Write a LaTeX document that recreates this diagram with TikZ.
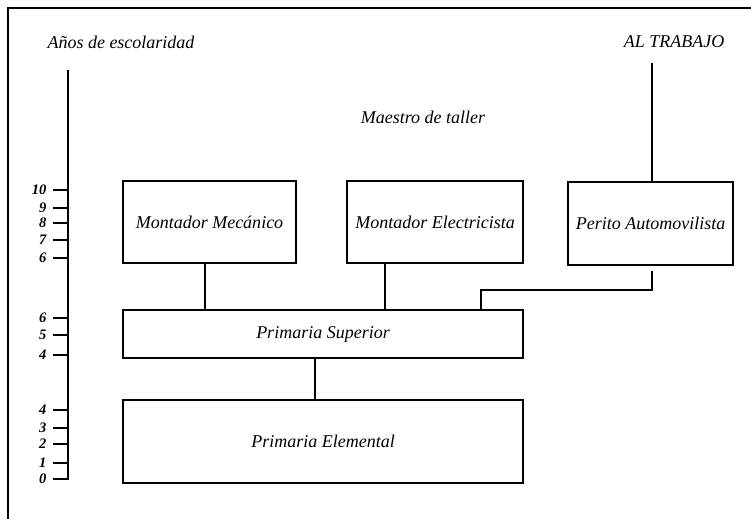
\documentclass[tikz,border=0pt]{standalone}
\usepackage{fontspec}
\setmainfont{Liberation Serif}
\usepackage{tikz}

\tikzset{
  oficio/.style={draw, line width=1.3pt, inner sep=0pt, font=\fontsize{18}{21}\selectfont\itshape},
  rotulo/.style={font=\fontsize{18}{21}\selectfont\itshape},
  anio/.style={anchor=east, inner sep=1pt, font=\fontsize{14.5}{16}\selectfont\bfseries\itshape},
}

\begin{document}
\begin{tikzpicture}[x=1pt, y=-1pt, line width=1.3pt]
  \useasboundingbox (0,0) rectangle (751,519);

  % frame (left and top edges)
  \draw[line width=1.8pt] (8,519) -- (8,8) -- (751,8);

  % titles
  \node[rotulo] (anios) at (121,42) {Años de escolaridad};
  \node[rotulo] (trabajo) at (674,42) {AL TRABAJO};
  \node[rotulo] (maestro) at (423,117) {Maestro de taller};

  % years axis
  \coordinate (ejetop) at (68,70);
  \coordinate (ejebot) at (68,479);
  \draw (ejetop) -- (ejebot) -- ++(-15,0);
  \foreach \y/\n in {190/10,208/9,223/8,240/7,258/6,318/6,335/5,355/4,410/4,428/3,444/2,463/1,479/0}
    {\draw (53,\y) -- (68,\y); \node[anio] (anio-\y) at (48,\y) {\n};}

  % boxes
  \node[oficio, minimum width=173pt, minimum height=82pt] (meca) at (209.5,222) {Montador Mecánico};
  \node[oficio, minimum width=176pt, minimum height=82pt] (elec) at (435,222) {Montador Electricista};
  \node[oficio, minimum width=165pt, minimum height=83pt] (perito) at (650.5,223.5) {Perito Automovilista};
  \node[oficio, minimum width=400pt, minimum height=48pt] (sup) at (323,334) {Primaria Superior};
  \node[oficio, minimum width=400pt, minimum height=83pt] (elem) at (323,441.5) {Primaria Elemental};

  % connections
  \coordinate (salida) at (652,63);
  \coordinate (codo) at (481,290);
  \draw (salida) -- (salida |- perito.north);
  \draw ([xshift=-4.5pt]meca.south) -- ([xshift=-4.5pt]meca.south |- sup.north);
  \draw ([xshift=-50pt]elec.south) -- ([xshift=-50pt]elec.south |- sup.north);
  \draw ([xshift=1.5pt,yshift=-5pt]perito.south) |- (codo) -- (codo |- sup.north);
  \draw ([xshift=-8pt]sup.south) -- ([xshift=-8pt]sup.south |- elem.north);

\end{tikzpicture}
\end{document}
